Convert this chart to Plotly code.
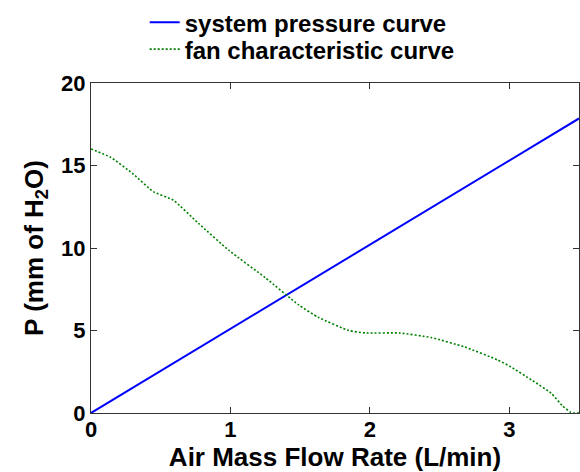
import plotly.graph_objects as go

# System pressure curve
sys_q = [0.0, 3.5]
sys_p = [0.0, 17.85]

# Fan characteristic curve
fan_q = [0.0, 0.14, 0.30, 0.45, 0.59, 0.77, 0.99, 1.25, 1.49, 1.63, 1.85, 1.97,
         2.21, 2.44, 2.68, 2.92, 3.01, 3.16, 3.30, 3.38, 3.44, 3.47, 3.5]
fan_p = [16.0, 15.5, 14.5, 13.4, 12.9, 11.5, 9.85, 8.2, 6.55, 5.8, 5.0, 4.85,
         4.85, 4.57, 4.0, 3.2, 2.8, 2.0, 1.2, 0.45, 0.05, 0.0, 0.0]

x_ticks = [0, 1, 2, 3]
y_ticks = [0, 5, 10, 15, 20]

fam = "Liberation Sans, Arial, sans-serif"
tick_font = dict(family=fam, size=22, color="black", weight="bold")
title_font = dict(family=fam, size=26, color="black", weight="bold")
legend_font = dict(family=fam, size=24, color="black", weight="bold")

fig = go.Figure()
fig.add_trace(go.Scatter(x=sys_q, y=sys_p, mode="lines", name="system pressure curve",
                         line=dict(color="#0000FF", width=2), legend="legend"))
fig.add_trace(go.Scatter(x=fan_q, y=fan_p, mode="lines", name="fan characteristic curve",
                         line=dict(color="#008000", width=1.6, dash="2px,2px", shape="spline", smoothing=0.5),
                         legend="legend2"))

axis_common = dict(showgrid=False, zeroline=False, showline=True, linecolor="#333333", linewidth=1,
                   ticks="inside", ticklen=6, tickcolor="#333333", mirror="ticks",
                   tickfont=tick_font)

fig.update_xaxes(range=[0, 3.5], tickvals=x_ticks, ticktext=[str(v) for v in x_ticks],
                 ticklabelstandoff=-3,
                 title=dict(text="Air Mass Flow Rate (L/min)", font=title_font, standoff=0), **axis_common)
fig.update_yaxes(range=[0, 20], tickvals=y_ticks, ticktext=[str(v) for v in y_ticks],
                 title=dict(text="P (mm of H<sub>2</sub>O)", font=title_font, standoff=10), **axis_common)

leg_common = dict(x=0.11, xanchor="left", yanchor="top", font=legend_font,
                  bgcolor="rgba(0,0,0,0)", itemwidth=30)

fig.update_layout(
    width=580, height=472,
    margin=dict(l=91, r=1, t=82, b=59),
    paper_bgcolor="white", plot_bgcolor="white",
    showlegend=True,
    legend=dict(y=1.247, **leg_common),
    legend2=dict(y=1.166, **leg_common),
)

fig.write_html("out.html")
